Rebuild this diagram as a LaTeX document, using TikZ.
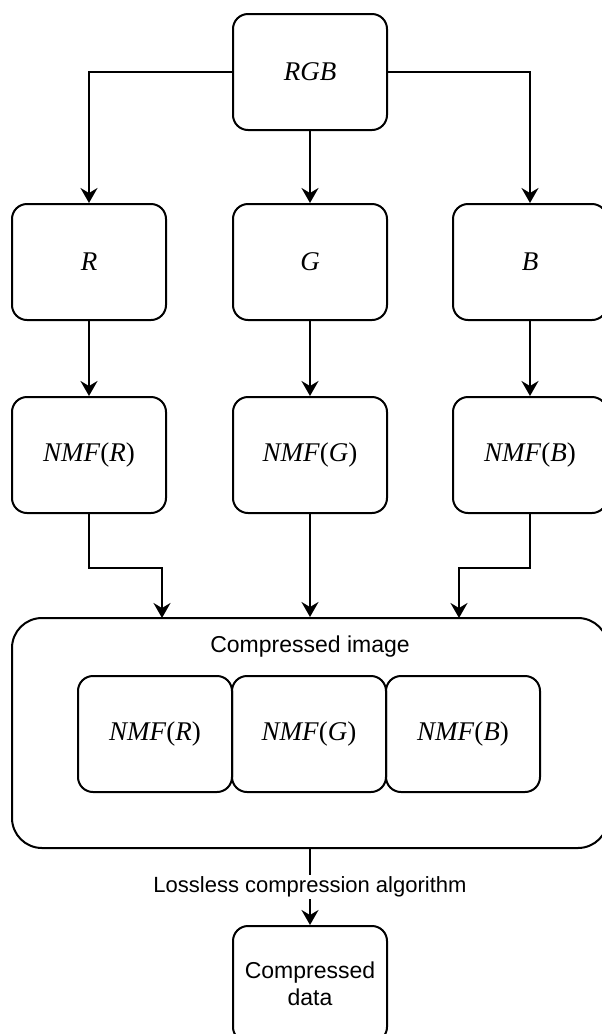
\documentclass[tikz,border=0pt]{standalone}
\usepackage{fontspec}
\setmainfont{Liberation Serif}
\setsansfont{Liberation Sans}
\usetikzlibrary{arrows.meta,positioning}
\tikzset{
  block/.style={rectangle, draw, line width=1pt, rounded corners=7.5pt, align=center, minimum width=77pt, minimum height=58pt, font=\fontsize{13.5}{16}\selectfont\itshape},
  textblock/.style={block, font=\fontsize{11.5}{13.5}\selectfont\sffamily},
  bigblock/.style={rectangle, draw, line width=1pt, rounded corners=15pt, minimum width=298pt, minimum height=115pt},
  caption/.style={font=\fontsize{11}{13}\selectfont\sffamily},
  line/.style={-{Stealth[length=7.5pt,width=8.5pt,inset=2.5pt]}, line width=1pt}
}

\begin{document}
\begin{tikzpicture}[x=0.5pt, y=-0.5pt]
  \useasboundingbox (0,0) rectangle (601,1034);
  \node[block] (rgb) at (310,72) {RGB};
  \node[block] (r) at (89,262) {R};
  \node[block] (g) at (310,262) {G};
  \node[block] (b) at (530,262) {B};
  \node[block] (nmfr) at (89,455) {NMF\textup{(}R\textup{)}};
  \node[block] (nmfg) at (310,455) {NMF\textup{(}G\textup{)}};
  \node[block] (nmfb) at (530,455) {NMF\textup{(}B\textup{)}};
  \node[bigblock] (comp) at (310,733) {};
  \node[caption, font=\fontsize{11.5}{13.5}\selectfont\sffamily] (title) at (310,647) {Compressed image};
  \node[block, outer sep=0pt] (inr) at (155,734) {NMF\textup{(}R\textup{)}};
  \node[block, outer sep=0pt, right=0pt of inr] (ing) {NMF\textup{(}G\textup{)}};
  \node[block, outer sep=0pt, right=0pt of ing] (inb) {NMF\textup{(}B\textup{)}};
  \node[textblock] (data) at (310,984) {Compressed\\data};
  \coordinate (inleft) at (162,618);
  \coordinate (inright) at (459,618);
  \draw[line] (rgb.west) -| (r.north);
  \draw[line] (rgb.south) -- (g.north);
  \draw[line] (rgb.east) -| (b.north);
  \draw[line] (r) -- (nmfr);
  \draw[line] (g) -- (nmfg);
  \draw[line] (b) -- (nmfb);
  \draw[line] (nmfr.south) -- ++(0,54) -| (inleft);
  \draw[line] (nmfg.south) -- (comp.north);
  \draw[line] (nmfb.south) -- ++(0,54) -| (inright);
  \draw[line] (comp.south) -- node[caption, fill=white, inner sep=1pt] {Lossless compression algorithm} (data.north);
\end{tikzpicture}
\end{document}
